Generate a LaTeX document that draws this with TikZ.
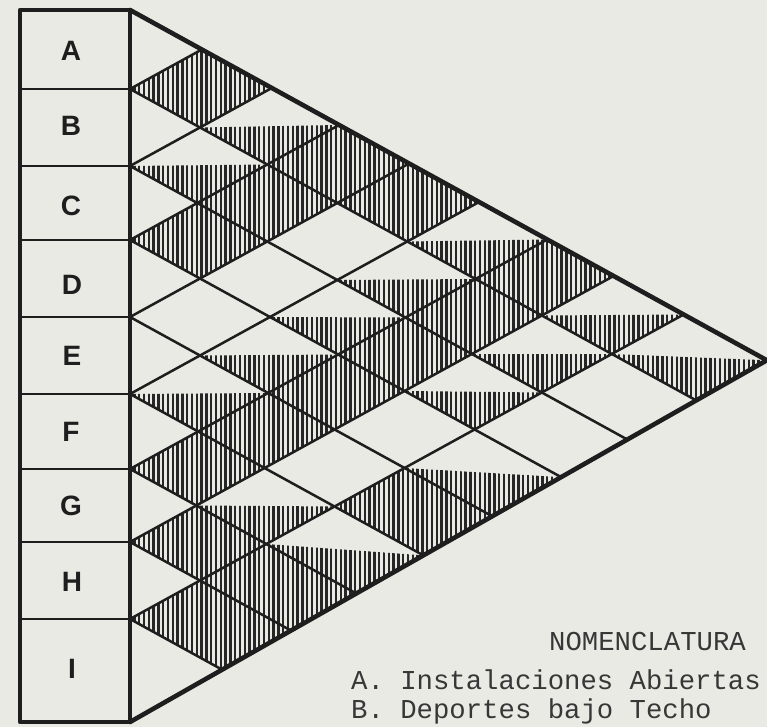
\documentclass[tikz,border=0pt]{standalone}
\usepackage{fontspec}
\setmainfont{Liberation Serif}
\newfontfamily\letfont{Liberation Sans}
\newfontfamily\typfont{Liberation Mono}
\usetikzlibrary{patterns.meta}
\definecolor{paper}{RGB}{234,234,228}
\definecolor{ink}{RGB}{30,30,30}
\definecolor{hatchc}{RGB}{38,38,38}
\definecolor{txt}{RGB}{55,55,55}
\def\Ylist{{10,89,166,240,317,394,469,542,619,722}}
\begin{document}
\begin{tikzpicture}[x=1pt,y=-1pt,
  gridline/.style={draw=ink,line width=2.5pt,line cap=round},
  edgeline/.style={draw=ink,line width=4.6pt,line cap=round,line join=round},
  boxline/.style={draw=ink,line width=4.5pt,line cap=round,line join=round},
  sepline/.style={draw=ink,line width=2.6pt},
  hatchfill/.style={pattern={Lines[angle=90,distance=4.8pt,line width=2.4pt]},pattern color=hatchc},
  rowlabel/.style={font=\letfont\bfseries\fontsize{28}{28}\selectfont,text=ink,inner sep=0pt},
  legendtext/.style={font=\typfont\fontsize{27.3}{27.3}\selectfont,text=txt,inner sep=0pt,anchor=base west}]
\fill[paper] (0,0) rectangle (767,727);
\useasboundingbox (0,0) rectangle (767,727);
% grid vertices P(k,m)
\foreach \k in {0,...,9} {
  \foreach \m in {\k,...,9} {
    \pgfmathsetmacro\yk{\Ylist[\k]}
    \pgfmathsetmacro\ym{\Ylist[\m]}
    \ifnum\m=9
      \pgfmathsetmacro\tt{(722-\yk)/1.118}
      \pgfmathsetmacro\px{130+\tt}
      \pgfmathsetmacro\py{\yk+0.55*\tt}
    \else
      \pgfmathsetmacro\px{130+(\ym-\yk)/1.1}
      \pgfmathsetmacro\py{(\yk+\ym)/2}
    \fi
    \coordinate (P\k-\m) at (\px,\py);
  }
}
% fully hatched diamonds
\foreach \a/\b in {0/1,2/3,5/6,6/7,7/8,1/3,4/6,6/8,0/3,3/6,0/4,2/6,4/8,1/6,0/6} {
  \pgfmathtruncatemacro\aa{\a+1}
  \pgfmathtruncatemacro\bb{\b+1}
  \fill[hatchfill] (P\aa-\b) -- (P\a-\b) -- (P\a-\bb) -- (P\aa-\bb) -- cycle;
}
% lower halves hatched
\foreach \a/\b in {1/2,4/5,0/2,3/5,5/7,2/5,5/8,1/5,0/5,2/7,3/8,1/7,0/7,0/8} {
  \pgfmathtruncatemacro\aa{\a+1}
  \pgfmathtruncatemacro\bb{\b+1}
  \fill[hatchfill] (P\aa-\b) -- (P\aa-\bb) -- (P\a-\bb) -- cycle;
}
% grid lines
\foreach \k in {1,...,8} {
  \draw[gridline] (P\k-\k) -- (P\k-9);
  \draw[gridline] (P\k-\k) -- (P0-\k);
}
% separators of the label column
\foreach \k in {1,...,8} {
  \draw[sepline] (P\k-\k) -- ++(-110,0);
}
% triangle edges
\draw[edgeline] (P0-0) -- (P0-9) -- (P9-9);
% label column
\draw[boxline] (P0-0) -- (20,10) -- (20,722) -- (P9-9);
\draw[draw=ink,line width=3.6pt] (P0-0) -- (P9-9);
% row labels
\node[rowlabel] (lA) at (71,51) {A};
\node[rowlabel] (lB) at (71,126) {B};
\node[rowlabel] (lC) at (71,206) {C};
\node[rowlabel] (lD) at (72,285) {D};
\node[rowlabel] (lE) at (72,356) {E};
\node[rowlabel] (lF) at (71,432) {F};
\node[rowlabel] (lG) at (71,506) {G};
\node[rowlabel] (lH) at (72,582) {H};
\node[rowlabel] (lI) at (72,669) {I};
% legend
\node[legendtext] (nom) at (549,650) {NOMENCLATURA};
\node[legendtext] (legA) at (351,689) {A. Instalaciones Abiertas};
\node[legendtext] (legB) at (351,718) {B. Deportes bajo Techo};
\end{tikzpicture}
\end{document}
